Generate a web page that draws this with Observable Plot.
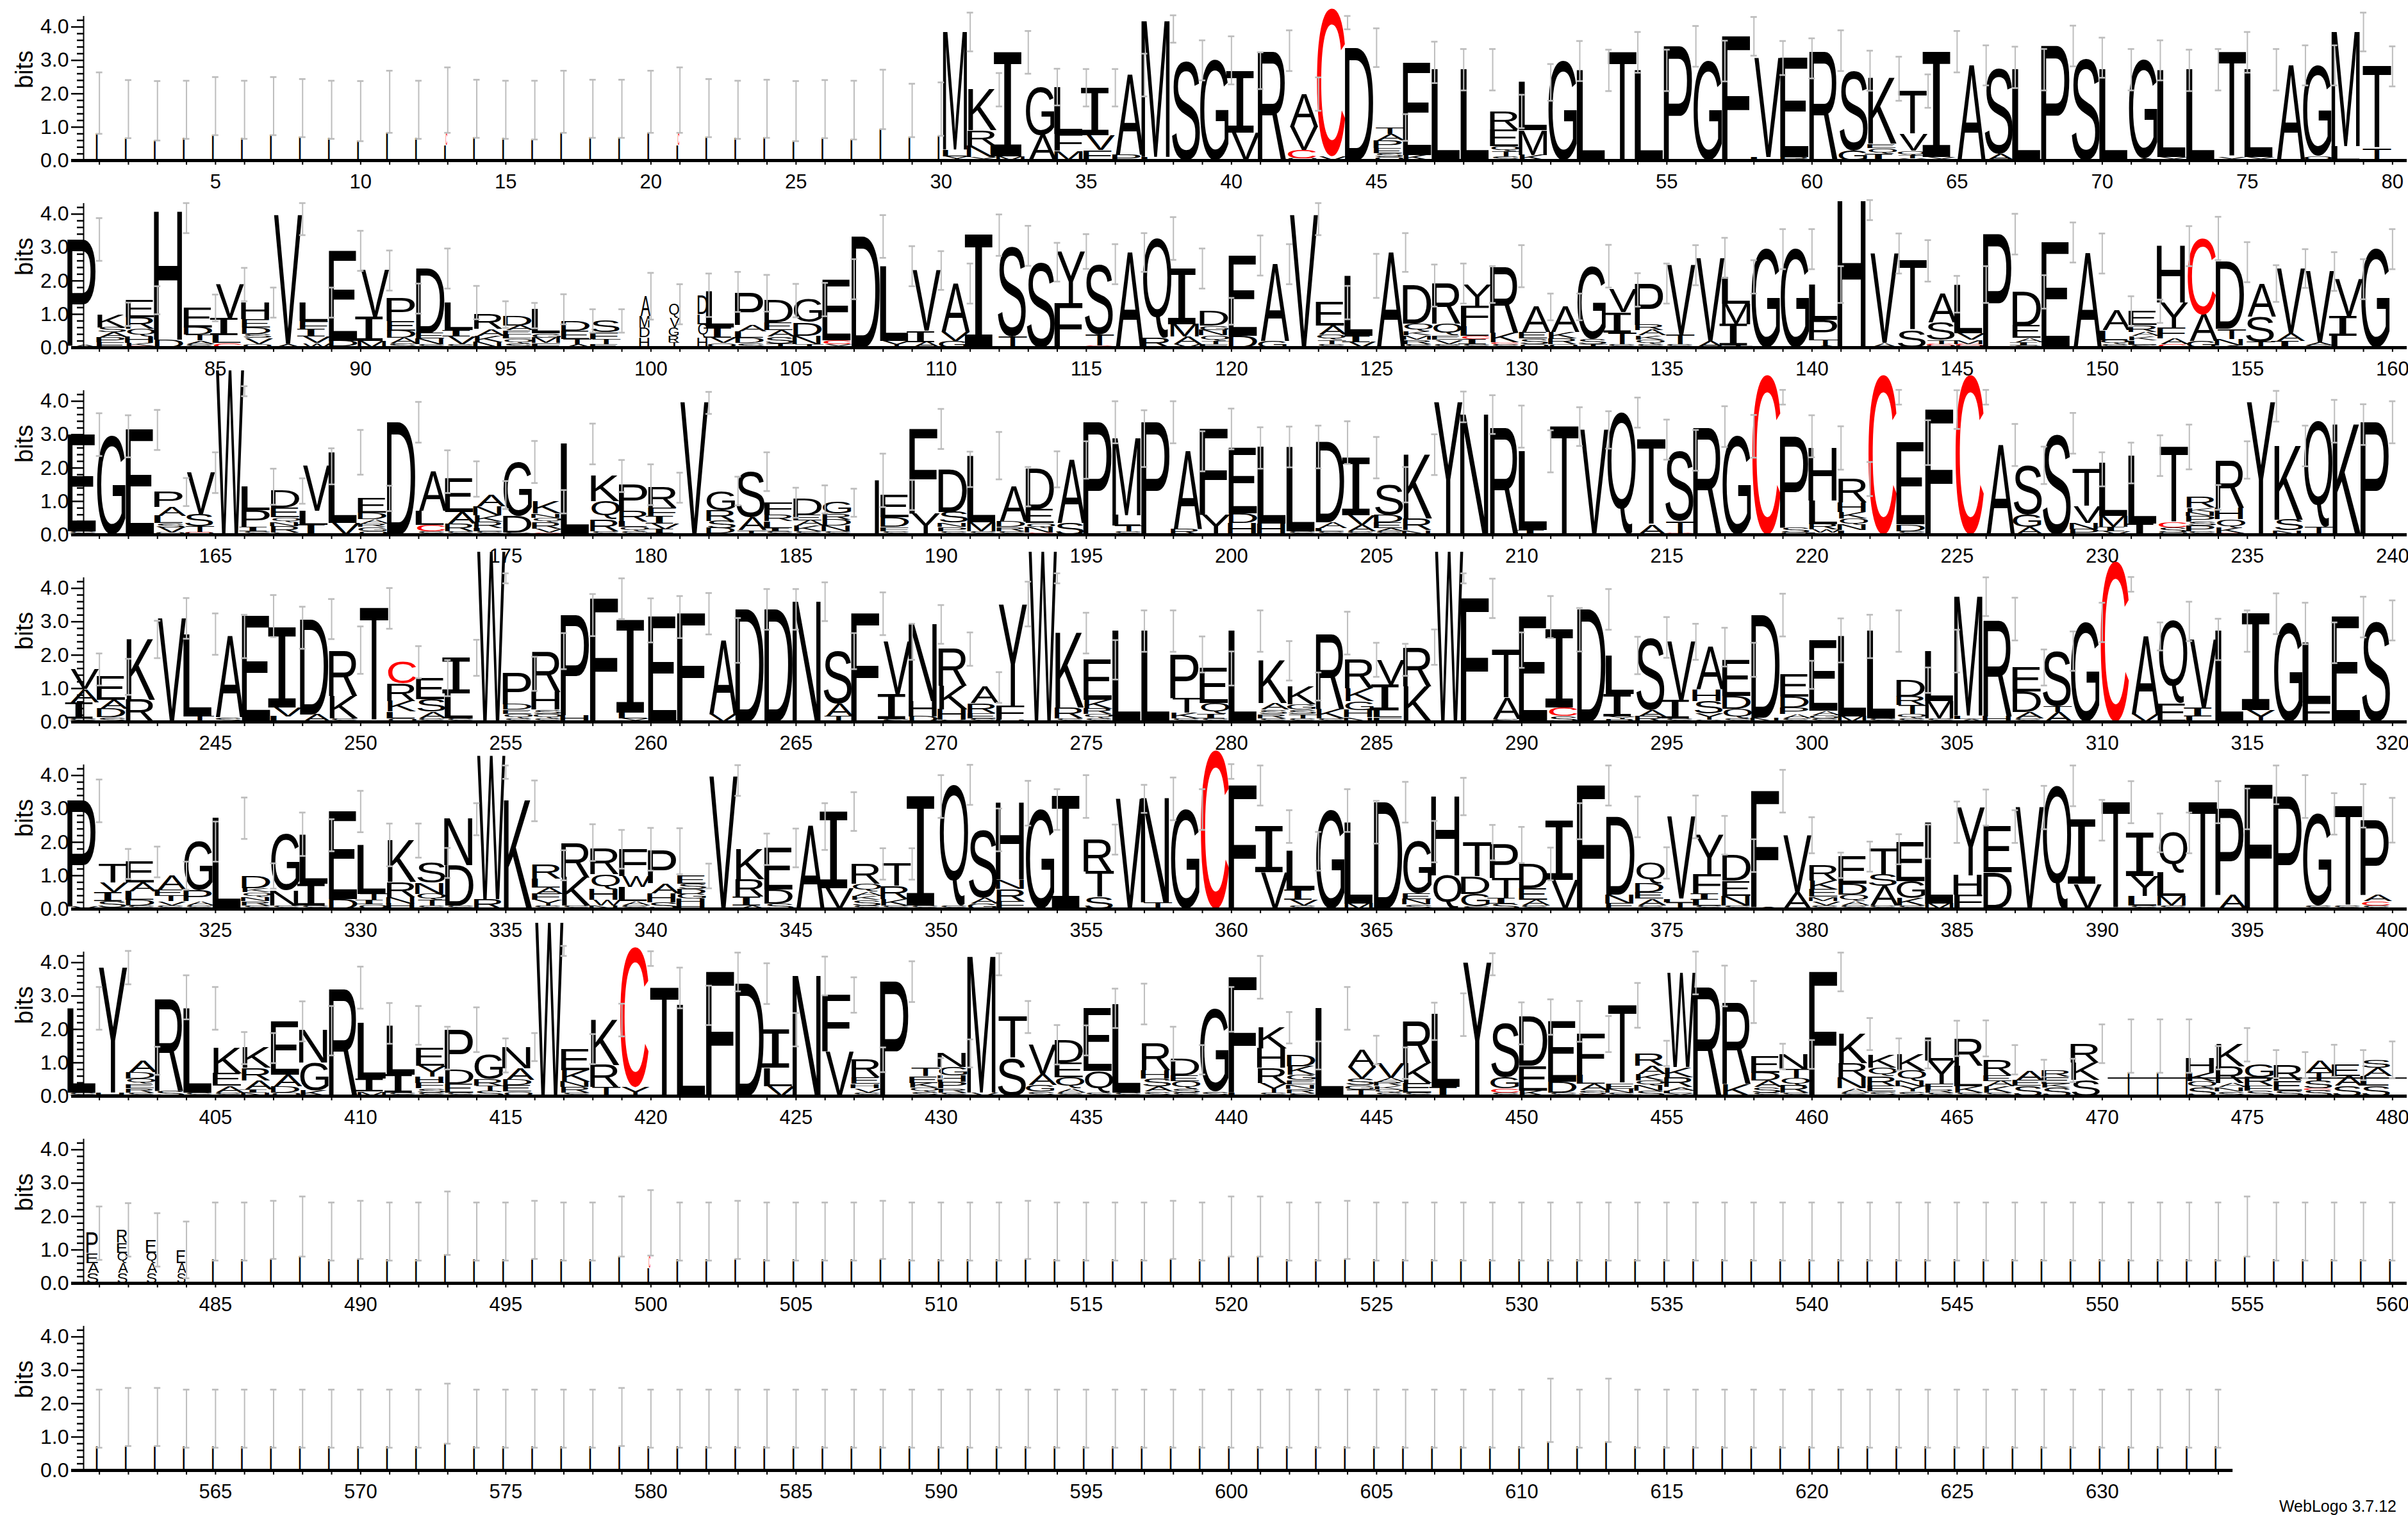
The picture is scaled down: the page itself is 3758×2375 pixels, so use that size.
<!DOCTYPE html>
<html><head><meta charset="utf-8">
<script src="https://cdn.jsdelivr.net/npm/d3@7"></script>
<script src="https://cdn.jsdelivr.net/npm/@observablehq/plot@0.6"></script>
<style>
body{margin:0;background:#fff;}
#chart{width:3758px;}
#chart svg{display:block;overflow:visible;}
#credit{width:3740px;height:39px;line-height:39px;text-align:right;font:25px 'Liberation Sans',Arial,sans-serif;color:#000;}
</style></head><body>
<div id="chart"></div>
<div id="credit">WebLogo 3.7.12</div>
<script>
// Each entry: letters bottom->top as Letter+height(bits); "w" = stack width fraction; "±" = error half-width; "@c±e" = error bar centre
const logoRow1 = [
"w.06 I.8 @1.72±.92","w.06 I.67 @1.54±.87","w.06 I.6 @1.49±.89","w.06 I.65 @1.52±.87","w.06 I.77 @1.63±.87",
"w.06 I.65 @1.52±.87","w.06 I.77 @1.63±.87","w.06 I.7 @1.57±.87","w.06 I.65 @1.52±.87","w.06 I.58 @1.48±.9",
"w.06 I.83 @1.76±.93","w.06 I.65 @1.52±.87","w.06 I.45 C.35 @1.81±.98","w.06 I.69 @1.55±.87","w.06 I.65 @1.52±.87",
"w.06 I.63 @1.51±.88","w.06 I.83 @1.76±.93","w.06 I.69 @1.55±.87","w.06 I.69 @1.55±.87","w.06 I.83 @1.76±.93",
"w.06 I.45 C.35 @1.81±.98","w.06 I.7 @1.57±.87","w.06 I.65 @1.52±.87","w.06 I.69 @1.55±.87","w.06 I.58 @1.48±.9",
"w.06 I.67 @1.54±.87","w.06 I.63 @1.51±.88","w.06 I.94 @1.83±.89","w.06 I.7 @1.5±.8","w.06 I.73 @1.54±.8",
"w.85 Y.12 L.2 M3.53 ±.58","Y.1 N.35 R.45 K1.22 ±.5","M.12 I3.12 ±.64","A.75 G1.45 ±.55","M.28 F.5 L1.4 ±.56",
"F.3 V.45 I1.43 ±.56","P.16 A2.4 ±.64","L.1 M4.07 @3.94±.41","S3.0 ±.6","G3.0 ±.72",
"V.83 I1.86 ±.55","R3.29 ±.61","Q.05 C.25 V.7 A.99 ±.5","V.12 C4.43 @4.13±.2","D3.38 ±.58",
"Q.1 S.12 E.15 P.22 A.2 T.2 ±.4","K.16 E2.78 ±.62","L2.72 ±.62","L2.72 ±.62","S.12 T.15 Q.15 E.5 R.55 ±.5",
"K.16 M.74 L1.44 ±.55","G2.98 ±.6","L2.7 ±.62","T3.24 ±.61","L2.7 ±.62",
"P3.42 ±.61","G2.98 ±.61","F3.72 ±.58","L.09 V2.98 ±.51","R.09 E2.97 ±.6",
"R3.29 ±.61","G.29 S2.4 ±.6","I.2 Q.16 E.13 K1.96 ±.66","Y.05 T.1 Q.13 V.5 T1.3 ±.5","Y.1 I3.16 ±.62",
"A2.85 ±.6","A.19 S2.6 ±.62","L2.72 ±.62","P3.43 ±.61","S3.08 ±.6",
"L2.72 ±.62","A.05 G2.95 ±.6","Y.1 L2.6 ±.62","L2.72 ±.62","Y.1 T3.14 ±.61",
"Y.1 L2.62 ±.62","A2.85 ±.6","Q.13 G2.72 ±.6","L.42 M3.43 ±.58","T.35 T2.47 ±.6"
];
const logoRow2 = [
"A.06 P3.18 ±.64","E.15 P.15 A.15 S.15 K.4 ±.35","C.04 K.1 H.19 Q.22 R.35 E.52 ±.42","D.23 H3.84 @3.88±.45","S.1 A.1 T.18 D.22 E.59 ±.4",
"C.13 L.24 I.52 V1.0 ±.5","Q.1 V.18 S.13 D.19 E.25 H.5 ±.45","A.1 V3.87 @3.85±.48","W.13 V.19 I.22 F.24 L.57 ±.45","M.03 D.17 E2.7 ±.6",
"M.2 I.72 V1.39 ±.6","S.12 A.16 D.22 E.29 P.68 ±.45","S.1 N.16 E.16 D1.95 ±.6","S.1 V.22 I.2 L.83 ±.5","N.16 K.19 A.2 R.44 ±.4",
"S.13 Q.13 L.13 E.12 A.15 D.3 ±.38","F.13 M.16 G.13 L.73 ±.45","A.1 T.15 E.25 D.3 ±.35","E.1 T.15 F.2 S.35 ±.35","w.35 H.3 D.3 M.35 A.59 ±.7",
"w.35 T.15 R.2 G.25 V.3 Q.4 ±.6","w.35 H.3 Q.4 L.3 D.57 ±.65","Q.13 V.16 I.3 L1.08 ±.6","S.13 D.15 L.2 A.2 P.95 ±.55","T.12 S.2 A.2 E.23 D.66 ±.5",
"T.1 N.25 D.4 G.69 ±.5","Y.1 C.12 E1.83 ±.6","D3.33 ±.64","Y.2 L2.24 ±.6","A.16 I.33 V1.82 ±.58",
"G.2 V.26 A1.46 ±.6","I3.37 ±.62","T.32 S2.73 ±.6","S2.56 ±.58","F1.33 Y1.55 ±.52",
"C.05 T.32 S2.13 ±.6","A2.85 ±.58","R.29 Q2.98 ±.64","V.1 A.22 M.38 I1.67 ±.6","F.1 T.1 Q.16 N.16 G.13 D.44 ±.4",
"D.35 E2.41 ±.6","G.2 A2.3 ±.6","V3.97 @3.85±.48","S.1 T.13 Q.16 A.26 E.7 ±.5","V.16 I.19 L1.8 ±.66",
"A2.85 ±.58","S.1 R.13 M.13 K.13 Q.22 D1.15 ±.63","S.1 V.13 E.13 Q.35 R1.21 ±.6","S.1 I.15 C.1 L.29 F.61 Y.64 ±.55","S.1 C.05 K.29 R2.0 ±.63",
"Q.1 S.16 E.2 A.76 ±.4","Q.1 R.16 K.2 A.76 ±.4","T.1 S.16 G2.18 ±.64","S.1 T.35 I.6 V.68 ±.5","S.1 Q.13 K.13 A.16 R.16 P1.24 ±.6",
"S.1 T.29 V2.08 ±.6","A.2 V2.49 ±.6","T.05 I.65 M.6 L.82 ±.5","G2.95 ±.6","G2.95 ±.6",
"A.05 T.16 P.62 L1.06 ±.55","H4.39 @4.12±.3","A.13 V2.69 ±.6","S.51 T2.09 ±.62","Q.05 C.05 T.12 S.53 A.85 ±.55",
"Q.05 C.05 M.13 V.2 L1.46 ±.55","P3.4 ±.61","S.05 I.1 A.13 E.38 D1.01 ±.5","E3.15 ±.6","A2.82 ±.6",
"S.1 Q.12 L.29 A.58 ±.45","S.08 L.13 K.13 A.13 R.2 E.42 ±.35","C.1 A.16 F.32 Y.76 H1.7 ±.6","G.19 A.8 C2.28 ±.65","A.05 N.2 T.3 D2.01 ±.6",
"T.16 S.77 A.99 ±.55","I.2 A.22 V1.95 ±.58","S.05 A.1 V2.13 ±.58","L.35 I.6 V1.1 ±.6","G2.95 ±.6"
];
const logoRow3 = [
"S.1 E2.9 ±.64","G2.95 ±.63","E3.14 ±.6","Q.05 V.16 S.13 L.22 A.26 P.46 ±.42","Q.05 C.03 T.16 S.38 V1.24 ±.61",
"W4.93 @4.3±.15","S.1 I.13 P.5 L.71 ±.54","S.05 R.2 N.13 Q.13 E.29 D.51 ±.38","I.29 L.42 V1.34 ±.54","V.35 L2.12 ±.67",
"Q.1 G.13 R.1 A.13 D.2 E.43 ±.38","D3.37 ±.61","S.1 C.19 L.42 A1.18 ±.64","S.1 R.22 A.35 E1.0 ±.53","S.1 L.1 R.19 K.19 N.26 A.35 ±.42",
"S.05 D.5 G1.63 ±.63","C.05 V.13 R.19 Q.13 N.13 K.36 ±.35","L2.72 ±.61","S.1 R.35 Q.55 K.76 ±.48","S.1 Q.13 L.16 R.32 P.79 ±.61",
"C.03 I.13 V.16 I.22 F.26 R.61 ±.45","V3.97 @3.95±.33","C.03 D.16 S.22 R.32 G.58 ±.43","T.13 A.38 S1.38 ±.58","S.1 I.1 L.2 R.2 F.36 ±.45",
"S.1 K.16 A.16 E.16 D.48 ±.42","S.1 N.16 D.19 R.17 G.34 ±.42","w.15 I1.63 ±.8","S.1 F.13 D.29 E.67 ±.45","Y.64 F2.53 ±.6",
"S.1 P.13 N.13 S.32 D1.28 ±.53","S.1 M.27 L2.0 ±.71","S.1 R.13 D.16 A1.05 ±.59","C.05 N.16 Q.13 E.42 D1.2 ±.54","S.35 A1.89 ±.56",
"P3.37 ±.63","S.1 T.16 L.32 M2.3 ±.85","P3.37 ±.63","R.16 A2.34 ±.6","Y.6 F2.57 ±.61",
"H.35 D.29 E1.96 ±.62","H.32 L2.31 ±.61","S.1 L2.53 ±.64","S.1 L.1 A.16 D2.4 ±.64","S.1 A.19 V.29 I1.73 ±.62",
"S.1 A.1 E.16 D.22 S.92 ±.53","N.13 R.35 K1.92 ±.61","Y3.97 @3.83±.46","N3.6 ±.58","R3.24 ±.63",
"I.13 L2.37 ±.63","T3.24 ±.58","V3.14 ±.56","Q3.66 ±.45","A.29 T2.56 ±.6",
"C.04 T.35 S2.14 ±.61","R3.24 ±.61","G2.95 ±.64","C4.78 @4.12±.22","Q.05 S.16 P2.74 ±.63",
"L.05 W.1 R.16 L.71 H1.58 ±.65","L.13 N.16 Q.19 K.19 H.29 R.71 ±.51","C4.78 @4.12±.22","S.1 D.2 E2.46 ±.67","F3.75 ±.58",
"C4.78 @4.12±.22","A2.69 ±.63","A.22 G.38 S1.48 ±.56","S3.04 ±.61","P.16 N.19 V.5 T1.11 ±.51",
"V.1 I.13 M.32 L1.6 ±.61","I.32 L2.05 ±.61","Q.05 S.16 C.16 T2.26 ±.67","S.1 P.16 S.13 P.16 N.13 K.13 R.31 ±.37","C.04 K.16 Q.26 H.35 R1.43 ±.56",
"Y3.97 @3.85±.46","N.13 S.32 K2.21 ±.61","T.22 Q3.18 ±.64","K3.3 ±.61","P3.37 ±.63"
];
const logoRow4 = [
"S.1 I.48 A.4 V.59 ±.48","S.13 D.26 A.26 E.7 ±.54","R.66 K1.81 ±.56","V3.1 ±.61","T.16 L2.47 ±.62",
"S.13 A2.43 ±.65","E3.17 ±.63","L.16 V.26 I2.4 ±.63","A.22 D2.86 ±.6","S.1 K.67 R1.38 ±.71",
"T3.4 ±.61","Q.1 L.2 K.32 R.52 C.65 ±.48","S.1 A.2 S.38 E.63 ±.54","S.1 L.75 I1.07 ±.54","W5.1 @4.3±.15",
"S.1 Q.13 E.13 D.16 P.92 ±.51","S.1 Q.13 S.13 H.53 R1.23 ±.54","H.2 P3.0 ±.63","F3.69 ±.61","Y.1 L.16 I2.78 ±.66",
"E3.14 ±.63","F3.24 ±.62","V.22 A2.22 ±.67","D3.37 ±.61","D3.37 ±.61",
"N3.6 ±.58","T.16 A.38 S1.58 ±.54","F3.24 ±.64","S.08 I.75 V1.57 ±.54","D.16 H.46 N2.3 ±.58",
"S.05 H.32 K.7 R1.11 ±.5","S.1 E.15 R.3 A.48 ±.46","H.05 F.42 Y3.06 ±.67","W5.1 @4.3±.15","S.1 R.32 K2.24 ±.61",
"S.1 Q.13 R.16 K.26 E1.21 ±.59","L2.72 ±.62","L2.72 ±.62","S.1 K.16 T.45 P1.31 ±.54","S.1 I.13 Q.32 E1.05 ±.51",
"L2.72 ±.62","S.1 R.13 S.13 A.19 K1.28 ±.59","S.1 T.13 S.13 G.16 K.54 ±.42","S.09 K.29 R2.28 ±.64","N.13 H.22 G.26 K.38 R.87 ±.51",
"F.13 L.22 I.77 V.74 ±.48","K1.06 R1.18 ±.53","W5.1 @4.3±.15","F3.7 ±.59","S.07 A.64 T1.44 ±.53",
"E3.14 ±.63","S.16 C.26 I2.34 ±.65","D3.37 ±.61","R.08 Y.08 I.67 L1.16 ±.56","R.16 A.19 S2.18 ±.61",
"S.1 I.54 V1.76 ±.54","S.05 Y.19 S.38 H.35 A1.27 ±.58","S.1 Q.29 D.38 E1.09 ±.51","N.12 D3.08 ±.64","S.1 A.13 P.2 D.32 E.66 ±.42",
"S.1 G.1 A.12 E2.12 ±.66","M.16 L2.4 ±.65","S.1 L2.62 ±.62","S.1 Q.13 T.26 R.26 D.5 ±.38","S.1 M.51 L1.51 ±.64",
"A.08 L.1 M3.57 ±.58","H.16 R2.92 ±.64","S.1 A.19 D.61 E.73 ±.54","A.29 T.16 S1.67 ±.59","G2.98 ±.59",
"C4.8 @4.12±.22","V.22 A2.34 ±.42","E.55 Q2.46 ±.59","L.16 I.26 V2.05 ±.62","L2.72 ±.62",
"Y.35 I2.89 ±.61","G2.95 ±.62","F.58 L1.79 ±.61","E3.14 ±.61","S3.04 ±.6"
];
const logoRow5 = [
"V.07 P3.17 ±.64","C.03 S.2 I.26 V.29 T.57 ±.45","S.1 D.16 L.26 A.26 E.63 ±.46","S.1 V.13 T.16 E.19 A.42 ±.42","S.1 A.13 P.32 G1.47 ±.6",
"L2.72 ±.62","S.1 R.13 N.13 Q.13 K.13 D.37 ±.38","S.1 N.45 G1.69 ±.65","S.1 I.64 L1.47 ±.48","D.29 E2.63 ±.62",
"Q.13 I.13 T.19 L1.47 ±.64","H.16 N.19 R.45 K1.25 ±.51","S.1 T.16 Q.19 N.32 S.61 ±.45","S.1 D1.2 N1.39 ±.48","R.29 W4.3 @4.1±.2",
"K3.24 ±.61","S.1 Y.16 F.19 A.19 L.26 R.41 ±.45","S.1 K.85 R1.04 ±.55","N.1 W.16 H.32 Q.45 R.76 ±.58","S.1 A.13 L.42 W.32 F.82 ±.64",
"S.2 H.26 A.3 P.97 ±.69","H.15 H.15 G.15 D.15 S.15 E.24 ±.37","V3.97 @3.85±.46","A.1 I.26 R.52 K.91 ±.47","S.16 D.42 E1.25 ±.58",
"A2.47 ±.7","V.61 I2.31 ±.58","S.1 S.16 K.13 A.13 Q.23 R.6 ±.47","S.1 K.19 R.4 T.66 ±.47","S.1 I3.27 ±.64",
"S.1 Q3.62 ±.6","G.16 A.16 S2.05 ±.64","F.22 R.38 N.26 H2.31 ±.67","G2.98 ±.61","I3.37 ±.64",
"S.35 T.77 R.96 ±.45","V3.3 ±.42","T.19 N3.11 ±.64","G2.98 ±.61","C4.75 @4.12±.22",
"F3.7 ±.6","V1.09 I1.38 ±.49","S.1 V.16 I.29 L1.18 ±.58","G2.95 ±.64","M.16 L2.44 ±.64",
"D3.2 ±.61","S.13 N.16 E.16 G1.57 ±.62","Q1.0 H2.37 ±.56","S.07 G.38 D.51 T1.03 ±.53","S.15 I.17 T.6 P1.0 ±.54",
"S.1 A.16 E.35 D.74 ±.49","V.86 I1.77 ±.54","F3.7 ±.6","E.16 N.26 D2.34 ±.61","S.1 A.2 E.2 D.26 Q.62 ±.47",
"T.2 L.1 V2.46 ±.64","S.1 L.16 I.19 F.58 Y1.18 ±.58","S.1 N.29 E.45 D.76 ±.49","A.05 F3.48 ±.64","A.48 V1.73 ±.54",
"S.1 V.13 M.13 E.22 K.26 R.47 ±.38","S.1 A.13 Q.19 D.32 E.83 ±.45","S.1 A.58 S.35 T.76 ±.45","S.1 K.22 G.51 E1.19 ±.51","M.16 L2.44 ±.62",
"F.42 H.58 Y2.04 ±.54","D1.09 E1.38 ±.49","V3.04 ±.65","Q3.69 ±.61","V.74 I1.92 ±.61",
"T3.2 ±.63","S.1 L.29 Y.58 I1.31 ±.58","S.1 M.29 L.7 Q1.19 ±.61","T3.2 ±.63","A.42 P2.58 ±.61",
"F3.72 ±.58","P3.37 ±.64","S.09 G2.76 ±.62","S.09 T3.0 ±.65","S.1 C.13 A.2 P2.23 ±.67"
];
const logoRow6 = [
"S.1 L2.53 ±.64","H.1 Y3.75 ±.5","S.1 R.13 E.13 Q.16 D.19 A.35 ±.42","S.16 R2.8 ±.66","S.1 L2.53 ±.64",
"S.1 A.2 E.38 K.76 ±.48","N.1 I.1 A.26 R.38 K.6 ±.45","Q.1 D.19 A.35 E1.6 ±.6","K.16 G.83 N.97 ±.74","R3.25 ±.63",
"M.13 I.38 L1.67 ±.61","S.1 I.54 L1.48 ±.58","S.1 S.13 F.16 H.19 Y.32 E.54 ±.64","S.1 E.26 D.42 P1.21 ±.67","S.15 T.15 R.2 G.72 ±.51",
"Q.13 E.19 D.16 A.35 N.64 ±.42","W5.2 @4.35±.15","S.1 R.16 N.16 K.35 E.64 ±.45","T.26 R.67 K1.35 ±.49","Y.26 C4.2 @4.12±.22",
"T3.24 ±.61","L2.72 ±.59","F3.72 ±.58","D3.37 ±.61","V.29 L.55 I1.15 ±.5",
"N3.6 ±.58","V1.33 F1.7 ±.53","S.1 V.13 H.13 E.19 R.54 ±.37","P3.43 ±.61","S.12 Q.12 K.15 E.2 T.24 ±.31",
"S.1 R.13 P.19 H.19 G.25 N.42 ±.42","V.1 M4.07 @3.95±.33","S1.13 T1.24 ±.48","S.13 G.19 A.32 V.9 ±.59","S.1 A.13 Q.32 E.45 D.67 ±.45",
"S.1 Q.64 E1.89 ±.59","S.1 L2.66 ±.61","S.13 A.15 S.23 H.25 R.81 ±.51","S.1 S.12 Q.23 E.16 D.48 ±.44","S.13 G2.47 ±.67",
"L.1 F3.46 ±.64","S.1 Y.29 R.45 H.58 K.63 ±.47","S.08 R.13 N.13 E.13 G.16 K.26 D.33 ±.42","L2.63 ±.64","T.19 G.13 S.19 V.35 A.52 ±.43",
"S.1 Q.1 K.1 R.12 A.12 V.45 ±.47","S.1 E.29 K.58 R1.27 ±.56","I.26 L2.18 ±.64","Y4.0 @3.95±.33","S.1 C.13 G.32 S1.63 ±.63",
"K.16 E.74 D1.47 ±.53","S.1 D.32 E1.82 ±.61","C.04 S.13 A.19 L.26 F1.24 ±.54","S.1 N.12 E.15 T2.35 ±.67","S.15 N.16 Q.16 K.19 A.24 R.38 ±.38",
"Y.08 L.08 A.1 R.3 K.3 W2.83 ±.64","R3.3 ±.61","K.35 R2.47 ±.63","S.1 S.16 A.2 D.24 E.49 ±.38","S.1 R.22 Q.22 T.26 N.45 ±.43",
"F3.72 ±.58","S.1 A.13 N.32 R.42 K.89 ±.48","S.13 E.16 R.3 Q.26 K.4 ±.48","S.13 Y.16 N.16 Q.3 K.5 ±.42","S.1 R.1 F.16 Y.69 L.68 ±.53",
"S.1 K.19 L.62 R.82 ±.54","S.1 K.19 A.16 E.16 R.48 ±.44","S.3 E.17 A.3 ±.32","S.25 K.12 E.2 R.2 ±.35","S.48 K.51 R.58 ±.58",
"w.06 I.7 @1.5±.8","w.06 I.7 @1.5±.8","w.06 I.7 @1.5±.8","S.25 Q.2 K.25 H.45 ±.35","S.13 N.13 A.13 R.5 K.65 ±.5",
"S.15 F.15 R.26 G.4 ±.42","S.16 E.3 R.47 ±.39","S.18 C.05 S.22 T.25 A.36 ±.48","S.3 A.3 E.33 ±.45","S.3 L.3 A.25 S.24 ±.55"
];
const logoRow7 = [
"w.4 S.3 A.3 E.3 P.6 ±.8","w.35 S.3 A.3 Q.3 E.3 R.4 ±.8","w.35 S.3 A.3 Q.3 E.4 ±.8","w.3 S.3 A.3 E.4 ±.85","w.06 I.7 @1.55±.87",
"w.06 I.7 @1.55±.87","w.06 I.72 @1.6±.87","w.06 I.8 @1.7±.9","w.06 I.7 @1.55±.87","w.06 I.72 @1.6±.87",
"w.06 I.7 @1.55±.87","w.06 I.7 @1.55±.87","w.06 I.85 @1.8±.95","w.06 I.7 @1.55±.87","w.06 I.7 @1.55±.87",
"w.06 I.72 @1.6±.87","w.06 I.7 @1.55±.87","w.06 I.7 @1.55±.87","w.06 I.8 @1.7±.9","w.06 I.45 C.35 @1.81±.98",
"w.06 I.7 @1.55±.87","w.06 I.7 @1.55±.87","w.06 I.72 @1.6±.87","w.06 I.7 @1.55±.87","w.06 I.7 @1.55±.87",
"w.06 I.7 @1.55±.87","w.06 I.7 @1.55±.87","w.06 I.72 @1.6±.87","w.06 I.7 @1.55±.87","w.06 I.7 @1.55±.87",
"w.06 I.7 @1.55±.87","w.06 I.7 @1.55±.87","w.06 I.72 @1.6±.87","w.06 I.7 @1.55±.87","w.06 I.7 @1.55±.87",
"w.06 I.7 @1.55±.87","w.06 I.7 @1.55±.87","w.06 I.72 @1.6±.87","w.06 I.7 @1.55±.87","w.06 I.8 @1.7±.9",
"w.06 I.8 @1.7±.9","w.06 I.7 @1.55±.87","w.06 I.7 @1.55±.87","w.06 I.72 @1.6±.87","w.06 I.7 @1.55±.87",
"w.06 I.7 @1.55±.87","w.06 I.7 @1.55±.87","w.06 I.7 @1.55±.87","w.06 I.7 @1.55±.87","w.06 I.7 @1.55±.87",
"w.06 I.7 @1.55±.87","w.06 I.7 @1.55±.87","w.06 I.7 @1.55±.87","w.06 I.7 @1.55±.87","w.06 I.7 @1.55±.87",
"w.06 I.7 @1.55±.87","w.06 I.7 @1.55±.87","w.06 I.7 @1.55±.87","w.06 I.7 @1.55±.87","w.06 I.7 @1.55±.87",
"w.06 I.7 @1.55±.87","w.06 I.7 @1.55±.87","w.06 I.7 @1.55±.87","w.06 I.7 @1.55±.87","w.06 I.7 @1.55±.87",
"w.06 I.7 @1.55±.87","w.06 I.7 @1.55±.87","w.06 I.7 @1.55±.87","w.06 I.7 @1.55±.87","w.06 I.7 @1.55±.87",
"w.06 I.7 @1.55±.87","w.06 I.7 @1.55±.87","w.06 I.7 @1.55±.87","w.06 I.7 @1.55±.87","w.06 I.8 @1.7±.9",
"w.06 I.7 @1.55±.87","w.06 I.7 @1.55±.87","w.06 I.7 @1.55±.87","w.06 I.7 @1.55±.87","w.06 I.7 @1.55±.87"
];
const logoRow8 = [
"w.06 I.7 @1.55±.87","w.06 I.72 @1.6±.87","w.06 I.72 @1.6±.87","w.06 I.7 @1.55±.87","w.06 I.7 @1.55±.87",
"w.06 I.7 @1.55±.87","w.06 I.7 @1.55±.87","w.06 I.7 @1.55±.87","w.06 I.7 @1.55±.87","w.06 I.7 @1.55±.87",
"w.06 I.7 @1.55±.87","w.06 I.7 @1.55±.87","w.06 I.8 @1.7±.9","w.06 I.7 @1.55±.87","w.06 I.7 @1.55±.87",
"w.06 I.7 @1.55±.87","w.06 I.7 @1.55±.87","w.06 I.7 @1.55±.87","w.06 I.72 @1.6±.87","w.06 I.7 @1.55±.87",
"w.06 I.7 @1.55±.87","w.06 I.7 @1.55±.87","w.06 I.7 @1.55±.87","w.06 I.7 @1.55±.87","w.06 I.7 @1.55±.87",
"w.06 I.7 @1.55±.87","w.06 I.7 @1.55±.87","w.06 I.7 @1.55±.87","w.06 I.7 @1.55±.87","w.06 I.7 @1.55±.87",
"w.06 I.7 @1.55±.87","w.06 I.7 @1.55±.87","w.06 I.7 @1.55±.87","w.06 I.7 @1.55±.87","w.06 I.7 @1.55±.87",
"w.06 I.7 @1.55±.87","w.06 I.7 @1.55±.87","w.06 I.7 @1.55±.87","w.06 I.7 @1.55±.87","w.06 I.7 @1.55±.87",
"w.06 I.7 @1.55±.87","w.06 I.7 @1.55±.87","w.06 I.7 @1.55±.87","w.06 I.7 @1.55±.87","w.06 I.7 @1.55±.87",
"w.06 I.7 @1.55±.87","w.06 I.7 @1.55±.87","w.06 I.7 @1.55±.87","w.06 I.7 @1.55±.87","w.06 I.7 @1.55±.87",
"w.06 I.85 @1.8±.95","w.06 I.7 @1.55±.87","w.06 I.85 @1.8±.95","w.06 I.7 @1.55±.87","w.06 I.7 @1.55±.87",
"w.06 I.7 @1.55±.87","w.06 I.7 @1.55±.87","w.06 I.7 @1.55±.87","w.06 I.7 @1.55±.87","w.06 I.7 @1.55±.87",
"w.06 I.7 @1.55±.87","w.06 I.7 @1.55±.87","w.06 I.7 @1.55±.87","w.06 I.7 @1.55±.87","w.06 I.7 @1.55±.87",
"w.06 I.7 @1.55±.87","w.06 I.7 @1.55±.87","w.06 I.7 @1.55±.87","w.06 I.7 @1.55±.87","w.06 I.7 @1.55±.87",
"w.06 I.7 @1.55±.87","w.06 I.7 @1.55±.87","w.06 I.7 @1.55±.87","w.06 I.7 @1.55±.87"
];
const logoRows = [logoRow1, logoRow2, logoRow3, logoRow4, logoRow5, logoRow6, logoRow7, logoRow8];
const rowStarts = [1, 81, 161, 241, 321, 401, 481, 561];
const yTickValues = [0, 1, 2, 3, 4];
const yMinorTicks = [0.2, 0.4, 0.6, 0.8, 1.2, 1.4, 1.6, 1.8, 2.2, 2.4, 2.6, 2.8, 3.2, 3.4, 3.6, 3.8, 4.2];
const letterColors = {C: "#ff0000"};
// stray horizontal stroke seen in the row starting at 401
const strayLines = [{row: 6, from: 470.2, to: 480.5, bits: 0.54}];

const FONT = "'Liberation Sans', Arial, Helvetica, sans-serif";
const MONO = "'DejaVu Sans Mono', 'Liberation Mono', monospace";
// the serifed I is used for normal-width stacks; very narrow stacks use the plain sans glyph
const fontFor = (ch, w) => ch === "I" && w > 0.2 ? MONO : FONT;
const ctx = document.createElement("canvas").getContext("2d");
const mcache = {};
function metrics(ch, font) {
  const key = font + "|" + ch;
  if (!mcache[key]) {
    ctx.font = "100px " + font;
    const m = ctx.measureText(ch);
    mcache[key] = {L: m.actualBoundingBoxLeft, R: m.actualBoundingBoxRight, A: m.actualBoundingBoxAscent, D: m.actualBoundingBoxDescent};
  }
  return mcache[key];
}

function parseRow(strings, start) {
  const letters = [], errs = [];
  strings.forEach((s, k) => {
    const pos = start + k;
    let w = 1, half = 0, center = null, base = 0;
    for (const tok of s.trim().split(/\s+/)) {
      if (tok[0] === "w") w = +tok.slice(1);
      else if (tok[0] === "@") { const p = tok.slice(1).split("±"); center = +p[0]; half = +p[1]; }
      else if (tok[0] === "±") half = +tok.slice(1);
      else {
        const ch = tok[0], h = +tok.slice(1);
        letters.push({pos, w, ch, y1: base, y2: base + h, color: letterColors[ch] || "#000000"});
        base += h;
      }
    }
    const c = center == null ? base : center;
    errs.push({pos, lo: c - half, hi: c + half});
  });
  return {letters, errs};
}

const W = 3758, H = 292, COL = 45.3, X0 = 132, BASE = 250, BIT = 52.1;

function drawRow(strings, start, rowNumber) {
  const n = strings.length;
  const {letters, errs} = parseRow(strings, start);
  const strays = strayLines.filter(s => s.row === rowNumber);
  const xEnd = X0 + n * COL;
  return Plot.plot({
    width: W, height: H,
    marginLeft: 111, marginRight: W - xEnd, marginTop: 25, marginBottom: H - BASE,
    style: {background: "transparent", overflow: "visible", fontFamily: FONT, color: "#000"},
    x: {domain: [start - 0.5, start + n - 0.5], range: [X0, xEnd], axis: null},
    y: {domain: [0, 4], range: [BASE, BASE - 4 * BIT], axis: null},
    marks: [
      Plot.rect(letters, {
        x1: d => d.pos - d.w * 0.49, x2: d => d.pos + d.w * 0.49, y1: "y1", y2: "y2", fill: "color",
        render(index, scales, values) {
          const g = d3.create("svg:g");
          for (const i of index) {
            const d = letters[i];
            const xa = Math.min(values.x1[i], values.x2[i]), xb = Math.max(values.x1[i], values.x2[i]);
            const yt = Math.min(values.y1[i], values.y2[i]), yb = Math.max(values.y1[i], values.y2[i]);
            if (yb - yt < 0.3) continue;
            const font = fontFor(d.ch, d.w);
            const m = metrics(d.ch, font);
            const sx = (xb - xa) / (m.L + m.R), sy = (yb - yt) / (m.A + m.D);
            g.append("text")
              .attr("transform", `translate(${xa},${yt}) scale(${sx},${sy}) translate(${m.L},${m.A})`)
              .attr("font-family", font).attr("font-size", 100)
              .attr("fill", d.color).text(d.ch);
          }
          return g.node();
        }
      }),
      Plot.ruleY(strays, {y: "bits", x1: "from", x2: "to", stroke: "#000", strokeWidth: 2}),
      Plot.ruleX(errs, {x: "pos", y1: "lo", y2: "hi", stroke: "#bdbdbd", strokeWidth: 2}),
      Plot.ruleY(errs, {y: "lo", x1: d => d.pos - 0.11, x2: d => d.pos + 0.11, stroke: "#bdbdbd", strokeWidth: 2.7}),
      Plot.ruleY(errs, {y: "hi", x1: d => d.pos - 0.11, x2: d => d.pos + 0.11, stroke: "#bdbdbd", strokeWidth: 2.7}),
      Plot.ruleY([0], {strokeWidth: 5, stroke: "#000"}),
      Plot.ruleX([start - 0.5], {dx: -2, y1: 0, y2: 4.32, stroke: "#000", strokeWidth: 2}),
      Plot.axisY({ticks: yMinorTicks, tickSize: 10, dx: 19, tickFormat: () => "", strokeWidth: 2.5, label: null}),
      Plot.axisY({ticks: yTickValues, tickSize: 19, dx: 19, tickPadding: 4, tickFormat: d => d.toFixed(1), fontSize: 32, strokeWidth: 2.5, label: null}),
      Plot.axisX({ticks: strings.map((s, k) => start + k), tickSize: 7, tickPadding: 14, tickFormat: d => d % 5 === 0 ? String(d) : "", fontSize: 31, strokeWidth: 2, label: null}),
      Plot.text(["bits"], {frameAnchor: "left", rotate: -90, dx: -73, fontSize: 38, fill: "#000"})
    ]
  });
}

const chart = document.getElementById("chart");
logoRows.forEach((r, i) => chart.appendChild(drawRow(r, rowStarts[i], i + 1)));
</script>
</body></html>
